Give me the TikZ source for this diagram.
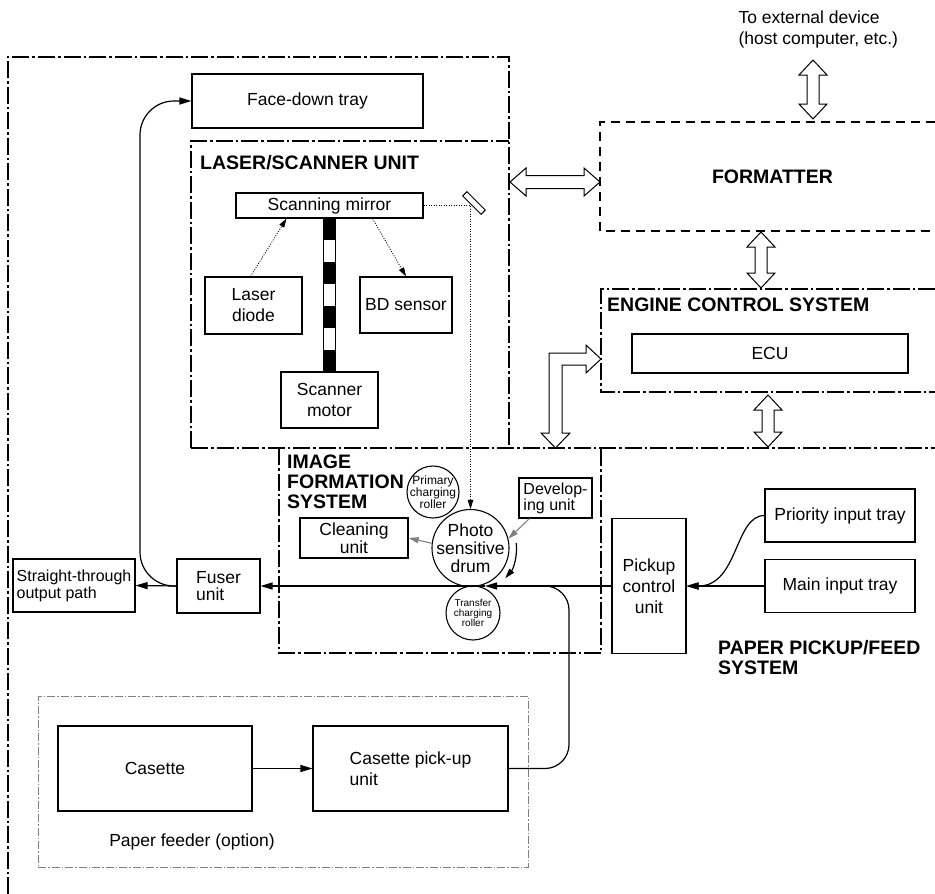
\documentclass[tikz,border=0pt]{standalone}
\usepackage{fontspec}
\setmainfont{Liberation Sans}
\usetikzlibrary{arrows.meta,positioning,calc}

\begin{document}
\begin{tikzpicture}[
  x=1pt, y=-1pt,
  txt/.style={font=\fontsize{17.5}{21}\selectfont},
  head/.style={font=\fontsize{19.5}{20}\selectfont\bfseries, inner sep=0pt, align=left},
  box/.style={rectangle, draw, line width=1.1pt, inner sep=0pt, align=center, txt},
  roller/.style={circle, draw, line width=1.1pt, inner sep=-6pt, align=center},
  frame/.style={line width=1.2pt, dash pattern=on 17pt off 3pt on 2.5pt off 3pt},
  fmtframe/.style={line width=1.1pt, dash pattern=on 9pt off 6pt},
  feedframe/.style={draw=gray, line width=0.7pt, dash pattern=on 8pt off 2pt on 1.5pt off 2pt},
  arrow/.style={-{Triangle[length=12pt,width=7pt]}, line width=1.2pt},
  feedline/.style={line width=1.2pt},
  beam/.style={-{Triangle[length=9pt,width=5.5pt]}, line width=0.8pt, dash pattern=on 1pt off 1.5pt},
  greyarrow/.style={-{Triangle[length=10pt,width=6pt]}, line width=1.1pt, gray},
  hollow/.style={draw, line width=1pt, fill=white, line join=miter},
  pics/vdbl/.style={code={\draw[hollow] (0,0) -- (14,15) -- (6,15) -- (6,#1-15) -- (14,#1-15) -- (0,#1) -- (-14,#1-15) -- (-6,#1-15) -- (-6,15) -- (-14,15) -- cycle;}},
  pics/hdbl/.style={code={\draw[hollow] (0,0) -- (16,-14) -- (16,-6.5) -- (#1-16,-6.5) -- (#1-16,-14) -- (#1,0) -- (#1-16,14) -- (#1-16,6.5) -- (16,6.5) -- (16,14) -- cycle;}}
]
\useasboundingbox (0,0) rectangle (935,894);

% frames
\draw[frame] (8,894) -- (8,57) -- (509,57) -- (509,448);
\draw[frame] (191,448) -- (191,141) -- (509,141);
\draw[frame] (191,448) -- (935,448);
\draw[frame] (279,448) -- (279,653) -- (601,653) -- (601,448);
\draw[frame] (935,289) -- (601,289) -- (601,392) -- (935,392);
\draw[fmtframe] (935,122) -- (600,122) -- (600,231) -- (935,231);

\node[txt, align=left, anchor=west] (ext) at (735,29) {To external device\\(host computer, etc.)};
\node[head] (fmt) at (772.5,177) {FORMATTER};
\node[head, anchor=west] (ecstitle) at (607,305) {ENGINE CONTROL SYSTEM};
\node[box, minimum width=276, minimum height=39] (ecu) at (770,353.5) {ECU};

% laser/scanner unit
\node[box, minimum width=231, minimum height=54] (facedown) at (307.5,101) {Face-down tray};
\node[head, anchor=west] (lsutitle) at (200,163) {LASER/SCANNER UNIT};
\node[box, minimum width=187, minimum height=25] (mirror) at (329.5,205.5) {Scanning mirror};
\node[box, minimum width=97, minimum height=57] (laser) at (253.5,305.5) {Laser\\diode};
\node[box, minimum width=92, minimum height=56] (bd) at (406,305) {BD sensor};
\node[box, minimum width=97, minimum height=56] (motor) at (329.5,400) {Scanner\\motor};
\node[draw, line width=1pt, minimum width=12, minimum height=154, inner sep=0pt] (shaft) at (329,295) {};
\foreach \k in {0,2,4,6}
  \fill ($(shaft.north west)+(0,22*\k)$) rectangle ++(12,22);

% image formation system
\node[head, anchor=west] (ifstitle) at (287,481.5) {IMAGE\\FORMATION\\SYSTEM};
\node[roller, minimum size=52, font=\fontsize{12}{11}\selectfont] (primary) at (433,492) {Primary\\charging\\roller};
\node[roller, minimum size=77, font=\fontsize{17.5}{18}\selectfont] (drum) at (470.5,548) {Photo\\sensitive\\drum};
\node[roller, minimum size=54, font=\fontsize{10}{10}\selectfont] (transfer) at (473,613) {Transfer\\charging\\roller};
\node[box, minimum width=73, minimum height=40, align=left, font=\fontsize{16}{16}\selectfont] (dev) at (555.5,498) {Develop-\\ing unit};
\node[box, minimum width=108, minimum height=40, font=\fontsize{17.5}{18}\selectfont] (clean) at (354,538) {Cleaning\\unit};

\draw[beam] ([xshift=-3]laser.north) -- ([xshift=-43]mirror.south);
\draw[beam] ([xshift=43]mirror.south) -- (bd.north);
\draw[beam] (mirror.east) -- (mirror.east -| drum.north) -- (drum.north);
\node[draw, fill=white, line width=1pt, minimum width=26, minimum height=6, inner sep=0pt, rotate=-45] (tilt) at (474,203) {};

\draw[greyarrow] ([xshift=11]dev.south west) -- (drum.14);
\draw[greyarrow] (drum.173) -- (clean.east);
\draw[-{Triangle[length=10pt,width=6pt]}, line width=1.2pt] ($(drum.center)+(-6:46)$) arc[start angle=-6, end angle=41, radius=46];

% paper path
\node[box, minimum width=83, minimum height=54, align=left, font=\fontsize{17.5}{17.5}\selectfont] (fuser) at (218.5,586) {Fuser\\unit};
\node[box, minimum width=122, minimum height=53, align=left, font=\fontsize{16}{17}\selectfont] (straight) at (74,585.5) {Straight-through\\output path};
\node[box, minimum width=74, minimum height=135] (pickup) at (649,586) {Pickup\\control\\unit};
\node[box, minimum width=150, minimum height=53] (priority) at (840,515.5) {Priority input tray};
\node[box, minimum width=150, minimum height=53] (maintray) at (840,586) {Main input tray};
\node[head, anchor=west] (feedtitle) at (718,658) {PAPER PICKUP/FEED\\SYSTEM};

\coordinate (nip) at (485,586);
\draw[arrow] (pickup.west) -- (nip);
\draw[arrow] (nip) -- (fuser.east);
\draw[arrow] (fuser.west) -- (straight.east);
\draw[arrow, rounded corners=34] (fuser.west) -- (140,586) -- (140,101) -- (facedown.west);
\draw[arrow] (maintray.west) -- (pickup.east);
\draw[arrow] (priority.west) .. controls +(-30,0) and +(40,0) .. ([xshift=12]pickup.east) -- (pickup.east);

% paper feeder
\node[feedframe, minimum width=490, minimum height=171, inner sep=0pt] (feeder) at (283,781.5) {};
\node[box, minimum width=194, minimum height=85] (casette) at (155,768.5) {Casette};
\node[box, minimum width=195, minimum height=85, align=left] (cpickup) at (410.5,768.5) {Casette pick-up\\unit};
\node[txt] (feedlabel) at (192,842) {Paper feeder (option)};
\draw[arrow] (casette) -- (cpickup);
\draw[feedline, rounded corners=24] (cpickup.east) -- (569,768.5) -- (569,586) -- (530,586);

% interfaces
\pic at (813,60) {vdbl=59};
\pic at (761,232) {vdbl=56};
\pic at (768,395) {vdbl=52};
\pic at (510,182) {hdbl=90};
\draw[hollow] (601,359) -- (586,345) -- (586,353) -- (549,353) -- (549,433) -- (541,433) -- (555.5,448) -- (570,433) -- (562,433) -- (562,365) -- (586,365) -- (586,373) -- cycle;

\end{tikzpicture}
\end{document}
